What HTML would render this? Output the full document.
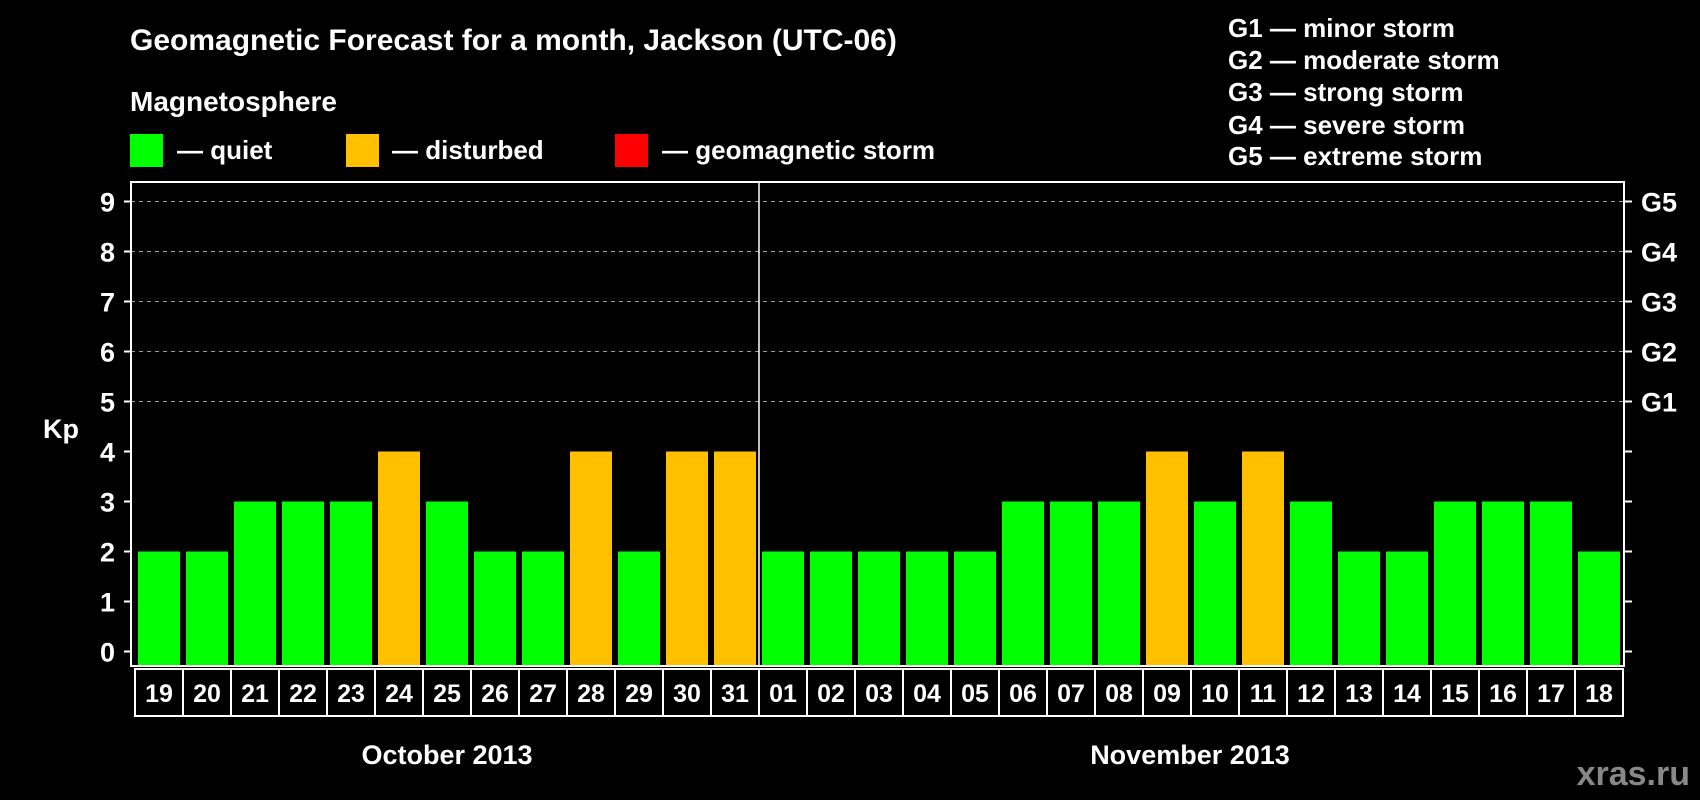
<!DOCTYPE html>
<html><head><meta charset="utf-8"><style>
html,body{margin:0;padding:0;background:#000;}
svg{display:block;font-family:"Liberation Sans",Arial,sans-serif;font-weight:bold;}
</style></head><body>
<svg id="chart" width="1700" height="800" viewBox="0 0 1700 800" xmlns="http://www.w3.org/2000/svg">
<rect width="1700" height="800" fill="#000"/>
<text x="130" y="50" fill="#fff" font-size="30">Geomagnetic Forecast for a month, Jackson (UTC-06)</text>
<text x="130" y="111" fill="#fff" font-size="28">Magnetosphere</text>
<rect x="130" y="134" width="33" height="33" fill="#00ff00"/>
<text x="177" y="159" fill="#fff" font-size="26">— quiet</text>
<rect x="346" y="134" width="33" height="33" fill="#ffc000"/>
<text x="392" y="159" fill="#fff" font-size="26">— disturbed</text>
<rect x="615" y="134" width="33" height="33" fill="#ff0000"/>
<text x="662" y="159" fill="#fff" font-size="26">— geomagnetic storm</text>
<g fill="#fff" font-size="26">
<text x="1228" y="37">G1 — minor storm</text>
<text x="1228" y="69">G2 — moderate storm</text>
<text x="1228" y="101">G3 — strong storm</text>
<text x="1228" y="134">G4 — severe storm</text>
<text x="1228" y="165">G5 — extreme storm</text>
</g>
<text x="43" y="438" fill="#fff" font-size="27">Kp</text>
<g id="grid"></g>
<g id="bars"></g>
<g id="axes"></g>
<text x="447" y="764" fill="#fff" font-size="27" text-anchor="middle">October 2013</text>
<text x="1190" y="764" fill="#fff" font-size="27" text-anchor="middle">November 2013</text>
<text x="1690" y="785" fill="#888" font-size="34" text-anchor="end">xras.ru</text>
</svg>
<script>
const days = ["19","20","21","22","23","24","25","26","27","28","29","30","31","01","02","03","04","05","06","07","08","09","10","11","12","13","14","15","16","17","18"];
const kpValues = [2,2,3,3,3,4,3,2,2,4,2,4,4,2,2,2,2,2,3,3,3,4,3,4,3,2,2,3,3,3,2];
const yTicks = [0,1,2,3,4,5,6,7,8,9];
const gLabels = ["G1","G2","G3","G4","G5"];
const gLevels = [5,6,7,8,9];
const monthSplitIndex = 13;

const NS = "http://www.w3.org/2000/svg";
const plotL = 131, plotR = 1624, plotT = 182, plotB = 666;
const y0 = 651.5, unit = 50;
const barStart = 138, pitch = 48, barW = 42;
function yScale(v){ return y0 - v*unit; }
function xScale(i){ return barStart + i*pitch; }
function mk(tag, attrs, parent){ const e=document.createElementNS(NS,tag); for(const k in attrs) e.setAttribute(k,attrs[k]); parent.appendChild(e); return e; }
function colorFor(v){ return v>=5 ? "#ff0000" : (v>=4 ? "#ffc000" : "#00ff00"); }

const grid = document.getElementById("grid");
gLevels.forEach((lv,i)=>{
  const l = mk("line",{x1:plotL,x2:plotR,y1:yScale(lv),y2:yScale(lv),stroke:"#999","stroke-width":1,"stroke-dasharray":"4,4"},grid);
  
  
  const t = mk("text",{x:1641,y:yScale(lv)+10,fill:"#fff","font-size":27},grid);
  t.textContent = gLabels[i];
  
  
});

const bars = document.getElementById("bars");
kpValues.forEach((v,i)=>{
  const r = mk("rect",{x:xScale(i),y:yScale(v),width:barW,height:(plotB-1)-yScale(v),fill:colorFor(v)},bars);
  
  
});

const axes = document.getElementById("axes");
mk("rect",{x:plotL,y:plotT,width:plotR-plotL,height:plotB-plotT,fill:"none",stroke:"#fff","stroke-width":2},axes);
const sepX = xScale(monthSplitIndex) - 3;
const sep = mk("line",{x1:sepX,x2:sepX,y1:plotT,y2:plotB,stroke:"#fff","stroke-width":1.5},axes);


yTicks.forEach(v=>{
  const y = yScale(v);
  mk("line",{x1:plotL-7,x2:plotL,y1:y,y2:y,stroke:"#fff","stroke-width":2},axes);
  mk("line",{x1:plotR,x2:plotR+8,y1:y,y2:y,stroke:"#fff","stroke-width":2},axes);
  const t = mk("text",{x:115,y:y+10,fill:"#fff","font-size":27,"text-anchor":"end"},axes);
  t.textContent = v;
  
  
});
const boxL = 135, boxT = 669, boxH = 47;
mk("rect",{x:boxL,y:boxT,width:days.length*pitch,height:boxH,fill:"none",stroke:"#fff","stroke-width":2},axes);
days.forEach((d,i)=>{
  const x = boxL + i*pitch;
  if(i>0) mk("line",{x1:x,x2:x,y1:boxT,y2:boxT+boxH,stroke:"#fff","stroke-width":2},axes);
  const t = mk("text",{x:x+pitch/2,y:boxT+33,fill:"#fff","font-size":25,"text-anchor":"middle"},axes);
  t.textContent = d;
  
  
});
</script>
</body></html>
